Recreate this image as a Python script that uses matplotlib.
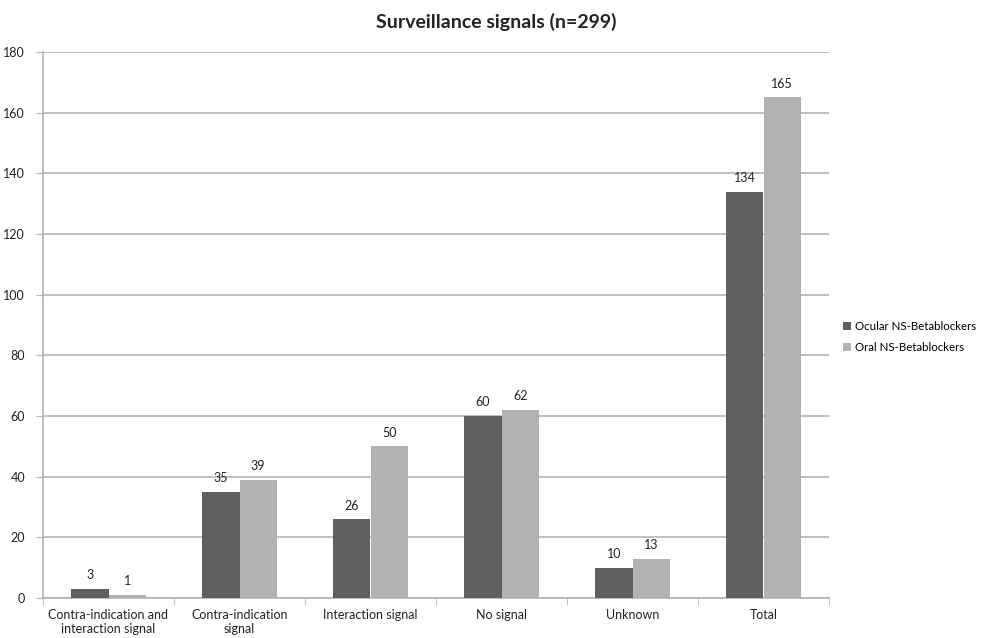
import matplotlib
matplotlib.use("Agg")
import matplotlib.pyplot as plt
import numpy as np

plt.rcParams['font.family'] = ['Lato', 'DejaVu Sans']

categories = ["Contra-indication and\ninteraction signal", "Contra-indication\nsignal",
              "Interaction signal", "No signal", "Unknown", "Total"]
ocular = [3, 35, 26, 60, 10, 134]
oral = [1, 39, 50, 62, 13, 165]
series_names = ["Ocular NS-Betablockers", "Oral NS-Betablockers"]
y_ticks = list(range(0, 181, 20))

dark = "#5f5f5f"
light = "#b2b2b2"
grid = "#b4b4b4"
txt = "#222222"

fig = plt.figure(figsize=(9.92, 6.38), dpi=100)
ax = fig.add_axes([43/992, 1-598/638, (829-43)/992, (598-52)/638])

x = np.arange(len(categories))
w = 1/3.5
b1 = ax.bar(x - w/2, ocular, w, color=dark, label=series_names[0], zorder=3)
b2 = ax.bar(x + w/2, oral, w, color=light, label=series_names[1], zorder=3)

for bars, vals in ((b1, ocular), (b2, oral)):
    for r, v in zip(bars, vals):
        ax.text(r.get_x() + r.get_width()/2, v + 2.5, str(v), ha="center", va="bottom",
                fontsize=9, color=txt)

ax.set_xlim(-0.5, len(categories) - 0.5)
ax.set_ylim(0, 180)
ax.set_yticks(y_ticks)
ax.tick_params(axis="y", length=5, color=grid, labelsize=9, labelcolor=txt, pad=8)
ax.yaxis.grid(True, color=grid, linewidth=1.2, zorder=0)
ax.set_axisbelow(True)

ax.set_xticks(x)
ax.set_xticklabels(categories, fontsize=9, color=txt)
ax.tick_params(axis="x", length=0, pad=8)
ax.set_xticks(np.arange(-0.5, len(categories), 1), minor=True)
ax.tick_params(axis="x", which="minor", length=5, color=grid)

for s in ("top", "right"):
    ax.spines[s].set_visible(False)
for s in ("left", "bottom"):
    ax.spines[s].set_color(grid)
    ax.spines[s].set_linewidth(1.2)

fig.text(0.5, 1 - 22/638, "Surveillance signals (n=299)", ha="center", va="center",
         fontsize=14, fontweight="bold", color=txt)

fig.legend(handles=[b1, b2], labels=series_names, loc="center left",
           bbox_to_anchor=(843/992, 1 - 337/638), frameon=False, fontsize=8.3,
           handlelength=0.7, handleheight=0.7, handletextpad=0.3, labelspacing=0.9,
           borderaxespad=0, borderpad=0)

fig.savefig("out.png", dpi=100)
